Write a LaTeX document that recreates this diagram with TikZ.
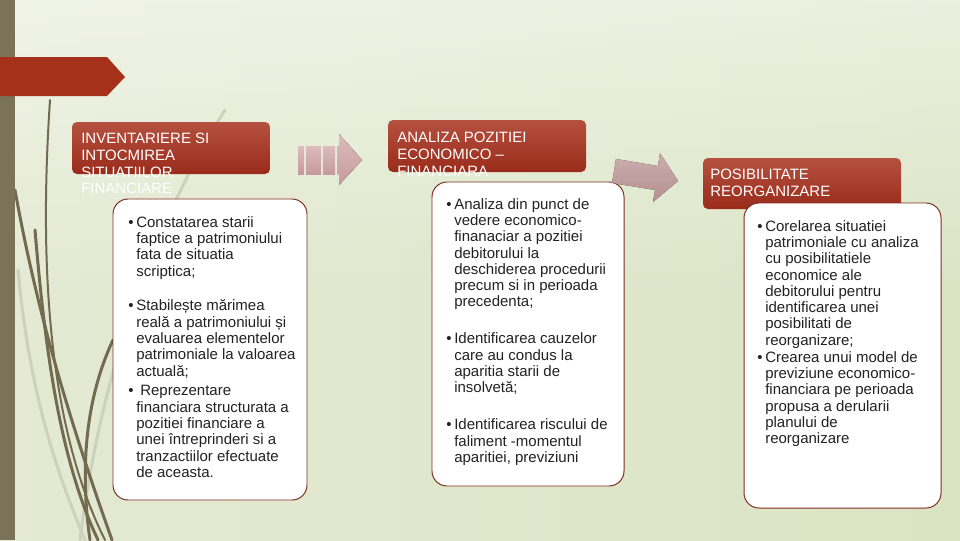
\documentclass[tikz,border=0pt]{standalone}
\usepackage{fontspec}
\setmainfont{Liberation Sans}
\usetikzlibrary{positioning, fadings}

\definecolor{fundalStanga}{HTML}{E4EAD3}
\definecolor{fundalMijloc}{HTML}{F5F6EE}
\definecolor{fundalDreapta}{HTML}{DAE4C4}
\definecolor{bara}{HTML}{7A7259}
\definecolor{ferigaInchis}{HTML}{736B50}
\definecolor{ferigaDeschis}{HTML}{CDD2BA}
\definecolor{rosuTitlu}{HTML}{A5311B}
\definecolor{rosuSus}{HTML}{B5513F}
\definecolor{rosuJos}{HTML}{9A2B1B}
\definecolor{chenar}{HTML}{7D2F21}
\definecolor{rozSus}{HTML}{DCBCBD}
\definecolor{rozJos}{HTML}{C59A9D}
\definecolor{textGri}{HTML}{222222}

\newlength{\pix}
\setlength{\pix}{0.025cm}
\newcommand{\punct}{\makebox[8\pix][l]{•}}
\newcommand{\alin}{\hspace*{8\pix}}

\begin{document}
\begin{tikzpicture}[
  x=0.025cm, y=-0.025cm,
  antet/.style={
    rounded corners=5\pix,
    top color=rosuSus, bottom color=rosuJos,
    minimum width=198\pix, minimum height=52\pix,
    inner sep=0pt, outer sep=0pt, anchor=north west
  },
  caseta/.style={
    draw=chenar, fill=white, line width=0.7pt,
    rounded corners=15\pix,
    inner sep=0pt, outer sep=0pt, anchor=north west
  },
  titlu/.style={
    text=white, align=left, inner sep=0pt, anchor=north west,
    font=\fontsize{15\pix}{16.7\pix}\selectfont
  },
  lista/.style={
    text=textGri, align=left, inner sep=0pt, anchor=north west,
    font=\fontsize{15\pix}{16.3\pix}\selectfont
  },
  sageata/.style={top color=rozSus, bottom color=rozJos, draw=none},
  feriga/.style={draw=ferigaInchis, line width=3\pix, line cap=round},
  ferigaPal/.style={draw=ferigaDeschis, line width=3\pix, line cap=round}
]
\useasboundingbox (0,0) rectangle (960,540);

% ----- Fundal -----
\shade[left color=fundalStanga, middle color=fundalMijloc, right color=fundalDreapta]
  (0,0) rectangle (960,540);
\fill[white, opacity=0.45, path fading=south] (0,0) rectangle (960,300);

% ----- Ferigi -----
\draw[ferigaPal] (225,110) .. controls (150,230) and (100,380) .. (80,540);
\draw[ferigaPal] (18,270) .. controls (30,400) and (60,480) .. (85,540);
\draw[feriga, line width=2\pix] (50,100) .. controls (40,250) and (45,420) .. (105,540);
\draw[feriga] (15,190) .. controls (40,330) and (80,450) .. (112,540);
\draw[feriga] (35,230) .. controls (45,350) and (60,460) .. (98,540);
\draw[feriga] (113,340) .. controls (85,400) and (80,470) .. (90,540);

\fill[bara] (0,0) rectangle (15,540);
\fill[rosuTitlu] (0,57) -- (107,57) -- (125,77) -- (107,96) -- (0,96) -- cycle;

% ----- Antete -----
\node[antet] (antet1) at (72,122) {};
\node[titlu] (titlu1) at ([shift={(9,11)}]antet1.north west)
  {INVENTARIERE SI\\INTOCMIREA\\SITUATIILOR\\FINANCIARE};

\node[antet] (antet2) at (388,120) {};
\node[titlu] (titlu2) at ([shift={(9,12)}]antet2.north west)
  {ANALIZA POZITIEI\\ECONOMICO –\\FINANCIARA};

\node[antet, minimum height=51\pix] (antet3) at (703,158) {};
\node[titlu] (titlu3) at ([shift={(7,11)}]antet3.north west)
  {POSIBILITATE\\REORGANIZARE};

% ----- Casete -----
\node[caseta, minimum width=194\pix, minimum height=301\pix] (caseta1) at (113,199) {};
\node[lista] (lista1) at ([shift={(15,17)}]caseta1.north west)
  {\punct Constatarea starii\\
   \alin faptice a patrimoniului\\
   \alin fata de situatia\\
   \alin scriptica;\\[18.5\pix]
   \punct Stabilește mărimea\\
   \alin reală a patrimoniului și\\
   \alin evaluarea elementelor\\
   \alin patrimoniale la valoarea\\
   \alin actuală;\\[3.5\pix]
   \punct\hspace{4\pix}Reprezentare\\
   \alin financiara structurata a\\
   \alin pozitiei financiare a\\
   \alin unei întreprinderi si a\\
   \alin tranzactiilor efectuate\\
   \alin de aceasta.};

\node[caseta, minimum width=192\pix, minimum height=304\pix] (caseta2) at (432,182) {};
\node[lista] (lista2) at ([shift={(14,16)}]caseta2.north west)
  {\punct Analiza din punct de\\
   \alin vedere economico-\\
   \alin finanaciar a pozitiei\\
   \alin debitorului la\\
   \alin deschiderea procedurii\\
   \alin precum si in perioada\\
   \alin precedenta;\\[20.7\pix]
   \punct Identificarea cauzelor\\
   \alin care au condus la\\
   \alin aparitia starii de\\
   \alin insolvetă;\\[20.7\pix]
   \punct Identificarea riscului de\\
   \alin faliment -momentul\\
   \alin aparitiei, previziuni};

\node[caseta, minimum width=197\pix, minimum height=305\pix] (caseta3) at (744,203) {};
\node[lista] (lista3) at ([shift={(13,17)}]caseta3.north west)
  {\punct Corelarea situatiei\\
   \alin patrimoniale cu analiza\\
   \alin cu posibilitatiele\\
   \alin economice ale\\
   \alin debitorului pentru\\
   \alin identificarea unei\\
   \alin posibilitati de\\
   \alin reorganizare;\\[0.7\pix]
   \punct Crearea unui model de\\
   \alin previziune economico-\\
   \alin financiara pe perioada\\
   \alin propusa a derularii\\
   \alin planului de\\
   \alin reorganizare};

% ----- Sageti -----
\fill[sageata] (298,146) rectangle (304,174);
\fill[sageata] (306,146) rectangle (321,174);
\fill[sageata] (323,146) rectangle (335,174);
\fill[sageata] (337,146) -- (339,146) -- (339,134) -- (362,160)
  -- (339,185) -- (339,174) -- (337,174) -- cycle;

\fill[sageata, opacity=0.92] (616,159) -- (658,166) -- (660,153) -- (678,181)
  -- (653,202) -- (655,190) -- (612,183) -- cycle;

\end{tikzpicture}
\end{document}
